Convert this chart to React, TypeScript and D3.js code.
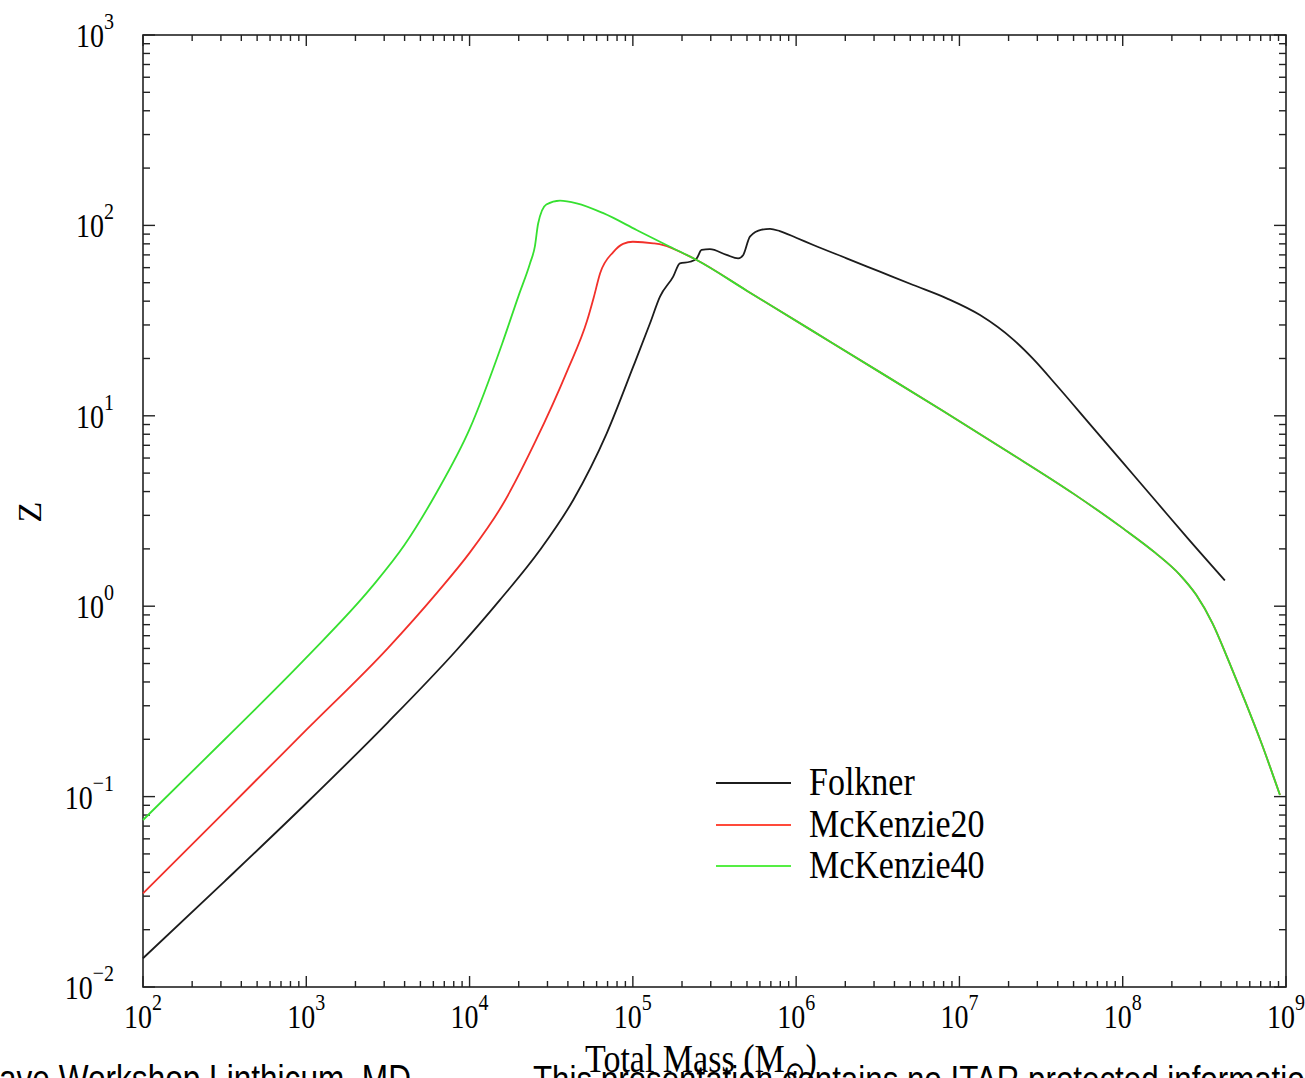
import React from 'react';
import * as d3 from 'd3';

const W = 1305;
const H = 1078;

// Folkner (black)
const folknerMass = [100, 316.2, 1000, 3162, 8337, 15350, 26980, 43150, 69180, 100500, 127400, 146600, 176600, 194100, 223400, 246000, 263600, 296500, 375000, 441600, 474300, 521200, 616600, 691800, 794300, 1000000, 1274000, 2037000, 3258000, 5212000, 8356000, 13370000, 21380000, 28180000, 39810000, 63100000, 100000000, 158500000, 251200000, 422700000];
const folknerZ = [0.01416, 0.03589, 0.09226, 0.2455, 0.5888, 1.079, 1.972, 3.614, 8.091, 18.11, 30.62, 42.27, 53.83, 63.24, 64.42, 67.14, 74.3, 74.99, 69.98, 67.14, 69.98, 87.3, 95.06, 95.94, 93.33, 86.1, 78.89, 67.14, 57.15, 48.64, 41.4, 33.81, 25.12, 19.95, 14.29, 9.016, 5.689, 3.589, 2.265, 1.365];

// McKenzie20 (red)
const mck20Mass = [100, 316.2, 1000, 3162, 6310, 10000, 15850, 25120, 39810, 52480, 57540, 63100, 75860, 87100, 100000, 133400, 153500, 213300, 246000, 501200, 1259000, 3162000, 7943000, 19950000, 50120000, 100000000, 158500000, 223900000, 281800000, 354800000, 446700000, 562300000, 707900000, 918300000];
const mck20Z = [0.03105, 0.08318, 0.2239, 0.6026, 1.175, 1.905, 3.388, 7.244, 17.38, 31.62, 41.69, 56.23, 72.44, 79.98, 82.04, 80.54, 78.89, 69.98, 65.77, 45.29, 27.93, 17.22, 10.59, 6.457, 3.89, 2.57, 1.905, 1.462, 1.148, 0.8128, 0.5129, 0.3162, 0.1905, 0.1019];

// McKenzie40 (green)
const mck40Mass = [100, 316.2, 1000, 2512, 3981, 6310, 10000, 15850, 19950, 23440, 25120, 26300, 29510, 35810, 45290, 65920, 105400, 168700, 246000, 501200, 1259000, 3162000, 7943000, 19950000, 50120000, 100000000, 158500000, 223900000, 281800000, 354800000, 446700000, 562300000, 707900000, 918300000];
const mck40Z = [0.07534, 0.1995, 0.537, 1.259, 2.089, 3.981, 8.511, 23.99, 42.66, 63.1, 77.62, 102.3, 128.8, 134.9, 130.6, 115.9, 94.62, 77.27, 65.77, 45.29, 27.93, 17.22, 10.59, 6.457, 3.89, 2.57, 1.905, 1.462, 1.148, 0.8128, 0.5129, 0.3162, 0.1905, 0.1019];

const seriesNames = ['Folkner', 'McKenzie20', 'McKenzie40'];
const seriesColors = ['#1c1c1c', '#f2302a', '#36e030'];
const legendColors = ['#1c1c1c', '#ff4a3a', '#55ee44'];

const xTickExps = [2, 3, 4, 5, 6, 7, 8, 9];
const yTickExps = [-2, -1, 0, 1, 2, 3];

const xTitle = 'Total Mass (M';
const xTitleSub = '⊙';
const yTitle = 'Z';
const footerLeft = 'ave Workshop Linthicum, MD';
const footerRight = 'This presentation contains no ITAR protected information';

const serif = '"Liberation Serif", "Times New Roman", serif';
const sans = '"Liberation Sans", Arial, sans-serif';

export default function App() {
  const x = d3.scaleLog().domain([1e2, 1e9]).range([143, 1286]);
  const y = d3.scaleLog().domain([1e-2, 1e3]).range([987, 35]);
  const [x0, x1] = x.range();
  const [y0, y1] = y.range();

  const line = d3
    .line<[number, number]>()
    .x((d) => x(d[0]))
    .y((d) => y(d[1]))
    .curve(d3.curveMonotoneX);

  const data: [number, number][][] = [
    folknerMass.map((m, i) => [m, folknerZ[i]] as [number, number]),
    mck20Mass.map((m, i) => [m, mck20Z[i]] as [number, number]),
    mck40Mass.map((m, i) => [m, mck40Z[i]] as [number, number]),
  ];

  const isMajor = (v: number) => Math.abs(Math.log10(v) - Math.round(Math.log10(v))) < 1e-6;
  const xTicks = x.ticks();
  const yTicks = y.ticks();
  const majLen = 11;
  const minLen = 6;

  const legendY = [783, 825, 866];

  return (
    <svg
      width={W}
      height={H}
      style={{ position: 'absolute', left: 0, top: 0, background: '#fff', overflow: 'hidden' }}
      xmlns="http://www.w3.org/2000/svg"
    >
      <rect x={0} y={0} width={W} height={H} fill="#fff" />
      {/* ticks */}
      <g stroke="#222" strokeWidth={1.4}>
        {xTicks.map((t, i) => {
          const L = isMajor(t) ? majLen : minLen;
          const px = x(t);
          return (
            <g key={'xt' + i}>
              <line x1={px} x2={px} y1={y0} y2={y0 - L} />
              <line x1={px} x2={px} y1={y1} y2={y1 + L} />
            </g>
          );
        })}
        {yTicks.map((t, i) => {
          const L = isMajor(t) ? majLen + 1 : minLen + 1;
          const py = y(t);
          return (
            <g key={'yt' + i}>
              <line x1={x0} x2={x0 + L} y1={py} y2={py} />
              <line x1={x1} x2={x1 - L} y1={py} y2={py} />
            </g>
          );
        })}
      </g>
      <rect x={x0} y={y1} width={x1 - x0} height={y0 - y1} fill="none" stroke="#222" strokeWidth={1.6} />

      {/* curves */}
      {data.map((d, i) => (
        <path key={'s' + i} d={line(d) || ''} fill="none" stroke={seriesColors[i]} strokeWidth={1.8} strokeLinejoin="round" />
      ))}

      {/* x tick labels */}
      {xTickExps.map((e) => (
        <text
          key={'xl' + e}
          transform={`translate(${x(Math.pow(10, e))},1028) scale(1,1.2)`}
          textAnchor="middle"
          fontFamily={serif}
          fontSize={28}
          fill="#000"
        >
          <tspan>10</tspan>
          <tspan fontSize={20} dy={-15}>{String(e)}</tspan>
        </text>
      ))}

      {/* y tick labels */}
      {yTickExps.map((e) => (
        <text
          key={'yl' + e}
          transform={`translate(114,${y(Math.pow(10, e)) + 12}) scale(1,1.2)`}
          textAnchor="end"
          fontFamily={serif}
          fontSize={28}
          fill="#000"
        >
          <tspan>10</tspan>
          <tspan fontSize={20} dy={-15}>{e < 0 ? '−' + String(-e) : String(e)}</tspan>
        </text>
      ))}

      {/* y title */}
      <text transform="translate(41,512) rotate(-90)" textAnchor="middle" fontFamily={serif} fontSize={34} fill="#000">
        {yTitle}
      </text>

      {/* legend */}
      {seriesNames.map((n, i) => (
        <g key={'lg' + i}>
          <line x1={716} x2={791} y1={legendY[i]} y2={legendY[i]} stroke={legendColors[i]} strokeWidth={1.8} />
          <text transform={`translate(809,${legendY[i] + 12}) scale(1,1.2)`} fontFamily={serif} fontSize={34} fill="#000">
            {n}
          </text>
        </g>
      ))}

      {/* x title */}
      <text transform="translate(585,1072) scale(1,1.2)" fontFamily={serif} fontSize={34} fill="#000">
        <tspan>{xTitle}</tspan>
        <tspan fontSize={24} dy={8}>{xTitleSub}</tspan>
        <tspan dy={-8}>)</tspan>
      </text>

      {/* footer */}
      <text transform="translate(-1,1092) scale(1,1.2)" fontFamily={sans} fontSize={31.6} fill="#000">
        {footerLeft}
      </text>
      <text transform="translate(533,1092) scale(1,1.2)" fontFamily={sans} fontSize={31.3} fill="#000">
        {footerRight}
      </text>
    </svg>
  );
}
